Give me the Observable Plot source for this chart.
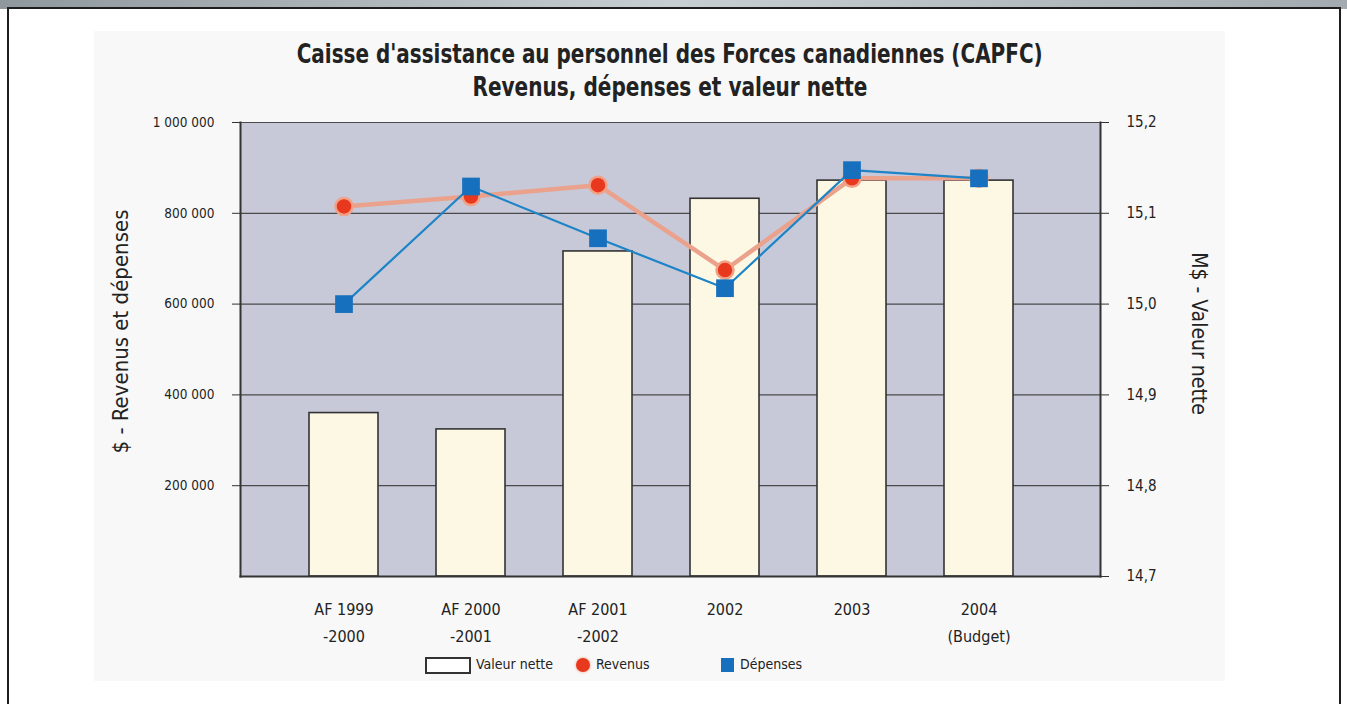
<!DOCTYPE html>
<html><head><meta charset="utf-8">
<script src="https://cdn.jsdelivr.net/npm/d3@7"></script>
<script src="https://cdn.jsdelivr.net/npm/@observablehq/plot@0.6"></script>
<style>
body{margin:0;background:#fff;width:1347px;height:704px;overflow:hidden;position:relative;font-family:"DejaVu Sans Condensed","DejaVu Sans",sans-serif;color:#222;}
#topstrip{position:absolute;left:0;top:0;width:1347px;height:9px;background:linear-gradient(90deg,#8f989d,#c8cfd2 50%,#a3abb0);}
#frame{position:absolute;left:7px;top:7px;width:1330px;height:720px;border:2px solid #1e1e1e;background:#fff;}
#panel{position:absolute;left:94px;top:31px;width:1131px;height:650px;background:#f8f8f8;}
#chart{position:absolute;left:0;top:0;}
.tline{position:absolute;left:0;width:1340px;text-align:center;font-weight:bold;font-size:27px;white-space:nowrap;}
.tline span{display:inline-block;transform-origin:center;}
#legend{position:absolute;left:0;top:0;font-size:14px;}
.lg{position:absolute;white-space:nowrap;}
</style></head>
<body>
<div id="topstrip"></div>
<div id="frame"></div>
<div id="panel"></div>
<div id="chart"></div>
<div class="tline" style="top:38px"><span id="t1"></span></div>
<div class="tline" style="top:71px"><span id="t2"></span></div>
<div id="legend"></div>
<script>
const titleLines = ["Caisse d'assistance au personnel des Forces canadiennes (CAPFC)", "Revenus, dépenses et valeur nette"];
const categories = ["AF 1999\n-2000", "AF 2000\n-2001", "AF 2001\n-2002", "2002", "2003", "2004\n(Budget)"];
const netValue = [14.88, 14.862, 15.058, 15.116, 15.136, 15.136];   // M$ (right axis)
const revenus  = [815000, 837000, 862000, 675000, 877000, 877000];  // $ (left axis)
const depenses = [600000, 859000, 745000, 635000, 895000, 877000];  // $ (left axis)
const leftTicks = [200000, 400000, 600000, 800000, 1000000];
const leftTickLabels = ["200 000", "400 000", "600 000", "800 000", "1 000 000"];
const rightTicks = [14.7, 14.8, 14.9, 15.0, 15.1, 15.2];
const rightTickLabels = ["14,7", "14,8", "14,9", "15,0", "15,1", "15,2"];
const leftLabel = "$ - Revenus et dépenses";
const rightLabel = "M$ - Valeur nette";
const legendLabels = ["Valeur nette", "Revenus", "Dépenses"];

const rMin = 14.7, rMax = 15.2, lMax = 1000000;
const toLeft = v => (v - rMin) / (rMax - rMin) * lMax;
const rightPos = rightTicks.map(toLeft);
const rows = categories.map((c, i) => ({cat: c, net: netValue[i], rev: revenus[i], dep: depenses[i]}));
const font = "DejaVu Sans Condensed, DejaVu Sans, sans-serif";

const plot = Plot.plot({
  width: 1347, height: 704,
  marginLeft: 240, marginRight: 247, marginTop: 122, marginBottom: 128,
  style: {background: "transparent", fontFamily: font, color: "#222", overflow: "visible"},
  x: {type: "band", domain: categories, range: [278, 1044], paddingInner: 0.46, paddingOuter: 0.23},
  y: {domain: [0, lMax]},
  marks: [
    Plot.frame({fill: "#c7c9d9", stroke: null}),
    Plot.gridY(leftTicks, {stroke: "#4a4a4a", strokeOpacity: 1, strokeWidth: 1.2}),
    Plot.barY(rows, {x: "cat", y1: 0, y2: d => toLeft(d.net), fill: "#fdf8e4", stroke: "#333", strokeWidth: 1.6}),
    Plot.line(rows, {x: "cat", y: "rev", stroke: "#eaa28c", strokeWidth: 4.5}),
    Plot.dot(rows, {x: "cat", y: "rev", r: 8.5, fill: "#e8391f", stroke: "#f2a086", strokeWidth: 2.5}),
    Plot.line(rows, {x: "cat", y: "dep", stroke: "#1d84c6", strokeWidth: 2.2}),
    Plot.dot(rows, {x: "cat", y: "dep", symbol: "square", r: 10, fill: "#1770bd"}),
    Plot.frame({anchor: "left", stroke: "#333", strokeWidth: 2}),
    Plot.frame({anchor: "right", stroke: "#333", strokeWidth: 2}),
    Plot.frame({anchor: "bottom", stroke: "#333", strokeWidth: 2}),
    Plot.axisY(leftTicks, {anchor: "left", tickFormat: d => leftTickLabels[leftTicks.indexOf(d)], tickSize: 8, tickPadding: 18, fontSize: 13.5, stroke: "#333", label: null}),
    Plot.axisY(rightPos, {anchor: "right", tickFormat: d => rightTickLabels[rightPos.indexOf(d)], tickSize: 8, tickPadding: 18, fontSize: 15, stroke: "#333", label: null}),
    Plot.axisX({tickSize: 0, tickPadding: 19, fontSize: 16, lineHeight: 1.7, label: null}),
    Plot.text([leftLabel], {frameAnchor: "left", textAnchor: "middle", dx: -120, dy: -18, rotate: -90, fontSize: 22, fill: "#222"}),
    Plot.text([rightLabel], {frameAnchor: "right", textAnchor: "middle", dx: 98, dy: -16, rotate: 90, fontSize: 21, fill: "#222"})
  ]
});
document.getElementById("chart").appendChild(plot);

// Title, fitted to the reference's condensed width
const t1 = document.getElementById("t1"), t2 = document.getElementById("t2");
t1.textContent = titleLines[0]; t2.textContent = titleLines[1];
[[t1, 746], [t2, 395]].forEach(([el, w]) => { const k = w / el.getBoundingClientRect().width; el.style.transform = `scaleX(${k})`; });

// Legend
const lg = document.getElementById("legend");
lg.innerHTML = `
<div class="lg" style="left:425px;top:657px;width:42px;height:13px;border:2px solid #333;background:#fff"></div>
<div class="lg" style="left:476px;top:656px">${legendLabels[0]}</div>
<div class="lg" style="left:576px;top:658px;width:14px;height:14px;border-radius:50%;background:#e8391f;box-shadow:0 0 3px #f2a086"></div>
<div class="lg" style="left:596px;top:656px">${legendLabels[1]}</div>
<div class="lg" style="left:721px;top:658px;width:13px;height:14px;background:#1770bd"></div>
<div class="lg" style="left:740px;top:656px">${legendLabels[2]}</div>`;
</script>
</body></html>
